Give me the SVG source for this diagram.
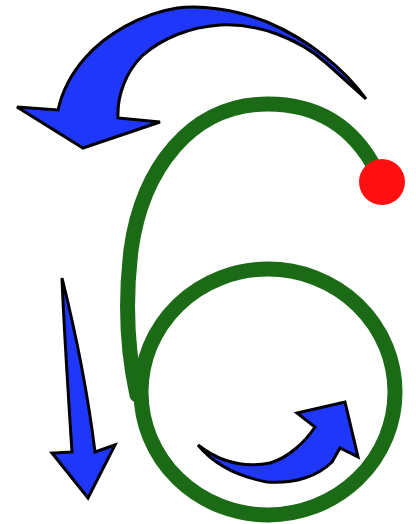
<svg xmlns="http://www.w3.org/2000/svg" width="416" height="524" viewBox="0 0 416 524">
<style>
.arrow{fill:#1f37fb;stroke:#000;stroke-width:3;stroke-linejoin:miter}
.six{fill:none;stroke:#1a6a16;stroke-width:15;stroke-linecap:round}
</style>
<rect width="416" height="524" fill="#fff"/>
<g id="digit">
<path class="six" d="M376,170 C352,124 315,104 268,104 C190,104 142,170 131,250 C125,300 127,350 137,395"/>
<ellipse class="six" cx="268" cy="392" rx="127" ry="123"/>
<circle cx="382" cy="182" r="23" fill="#ff1010"/>
</g>
<g id="arrows">
<path class="arrow" d="M366,99 C345,70 310,40 267,22 C235,9 200,5 177,8 C140,14 105,35 85,58 C70,75 62,92 58,110 L17,107 L83,148 L160,122 L118,118 C117,95 126,72 142,56 C162,38 190,27 220,25 C260,23 300,40 325,62 C343,78 356,90 366,99 Z"/>
<path class="arrow" d="M62,278 C64,330 68,390 72,452 L52,453 L88,498 L115,445 L95,452 C88,395 75,330 62,278 Z"/>
<path class="arrow" d="M198,445 C212,462 235,476 267,482 C295,484 318,476 332,462 L340,448 L358,457 L345,402 L297,413 L315,427 C305,442 288,458 270,463 C250,467 225,466 198,445 Z"/>
</g>
</svg>
